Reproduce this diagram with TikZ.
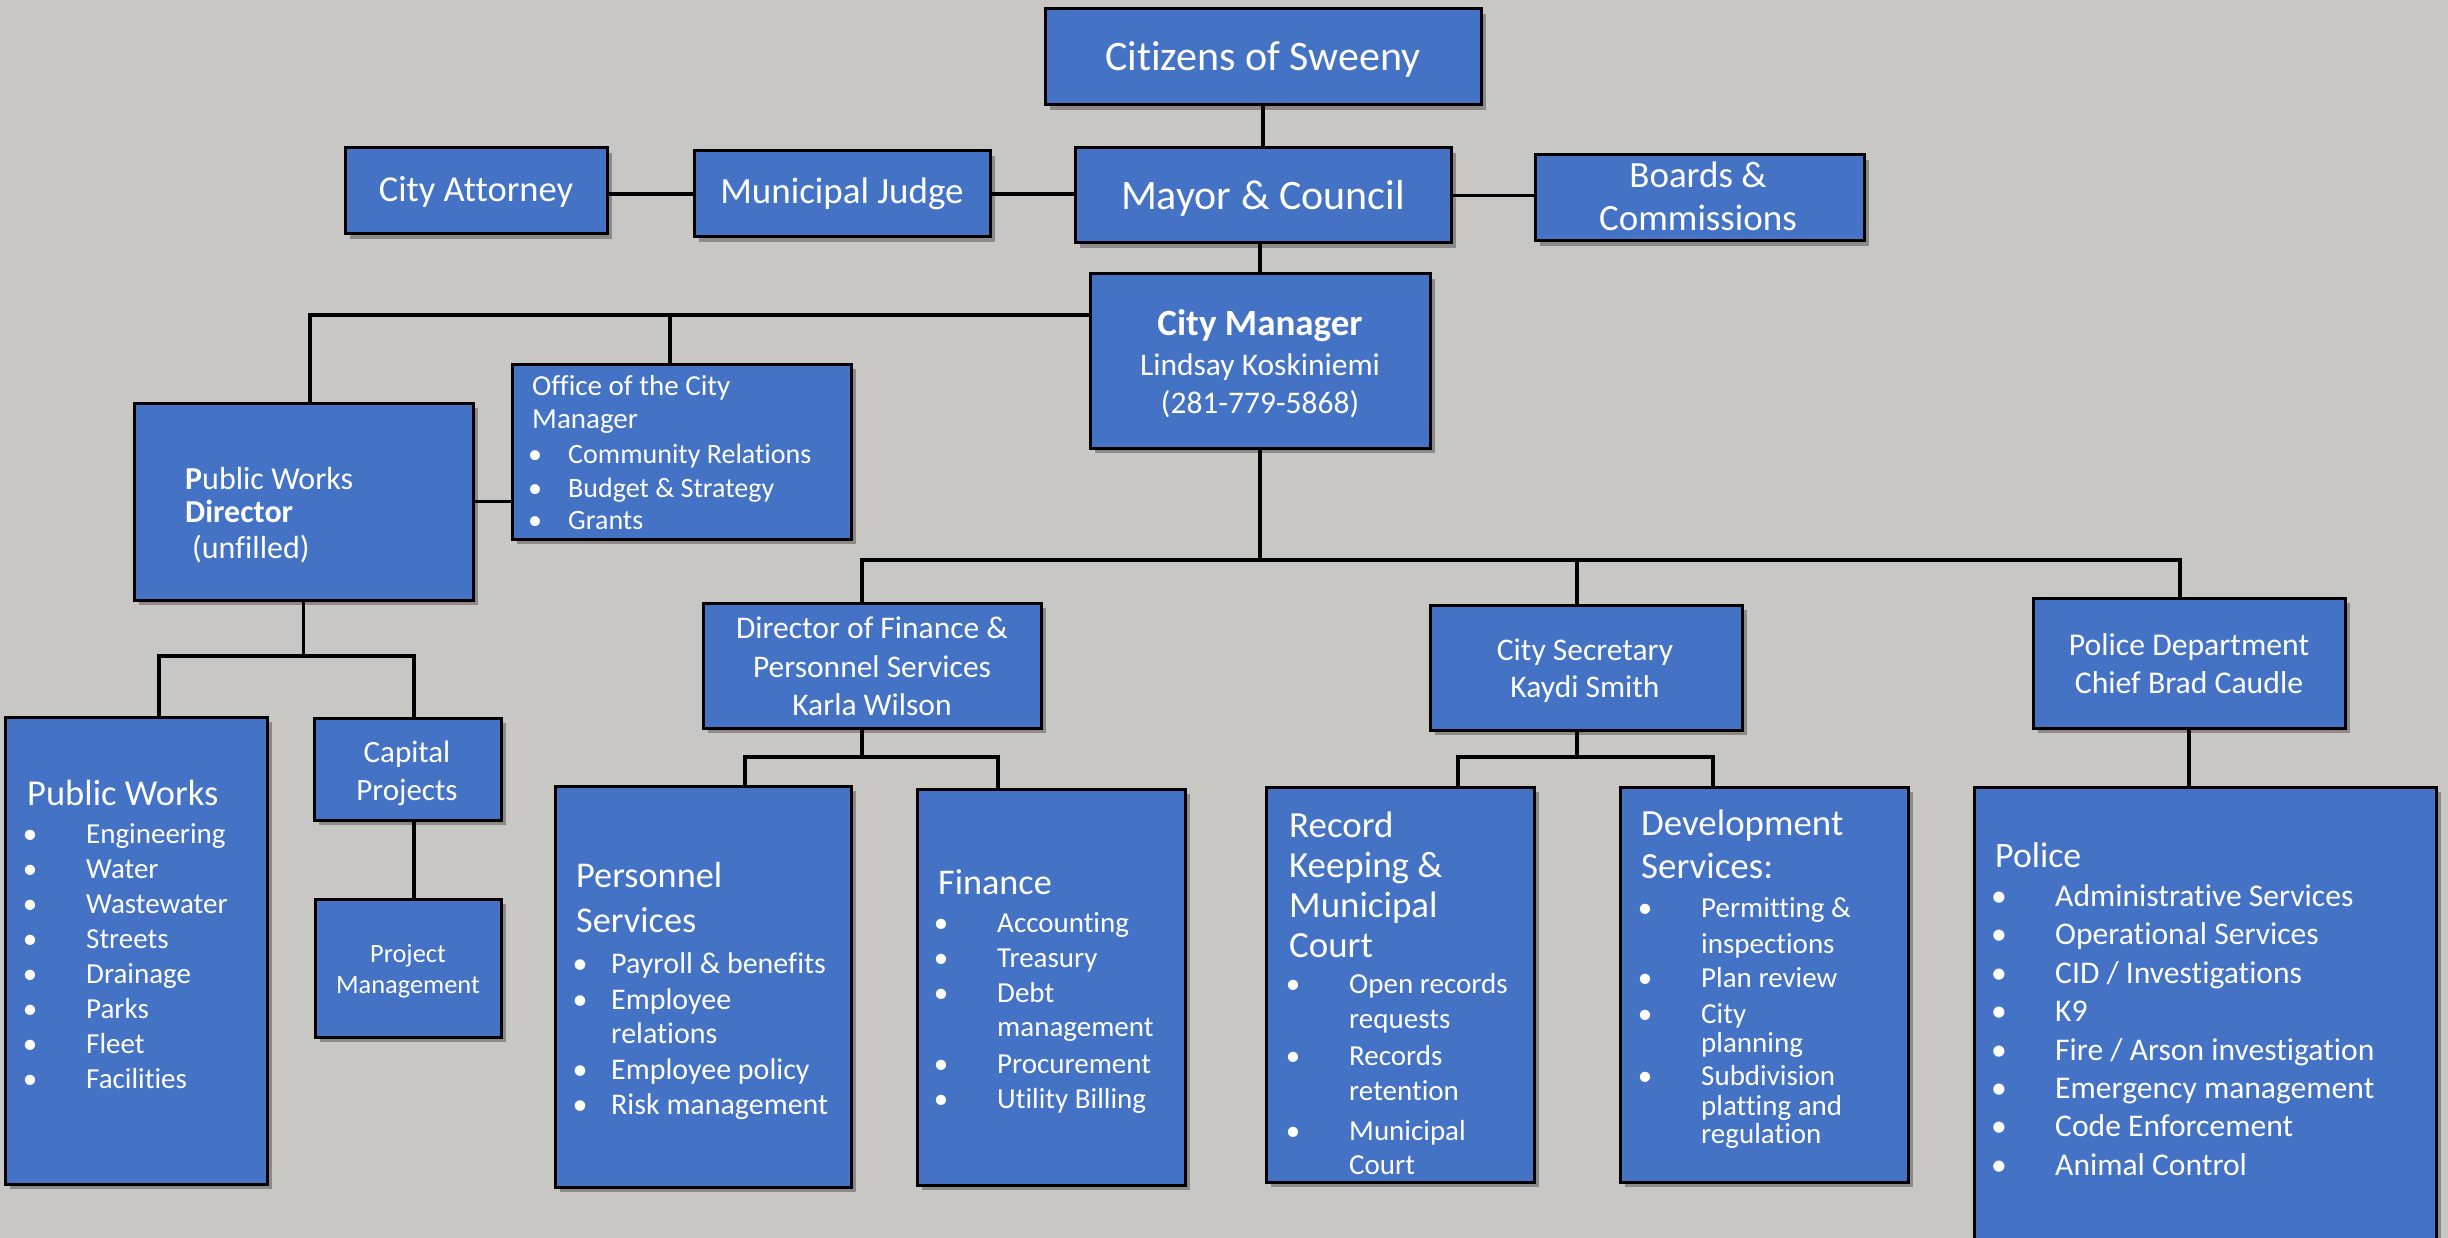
\documentclass[tikz,border=0pt]{standalone}
\usepackage{fontspec}
\setmainfont{Carlito}[Ligatures={NoCommon,NoContextual}]
\usetikzlibrary{shadows}
\definecolor{bg}{RGB}{200,199,196}
\definecolor{boxblue}{RGB}{68,114,196}
\newcommand\fs[1]{\fontsize{#1}{#1}\selectfont}
\tikzset{
  box/.style={draw=black, line width=3pt, fill=boxblue, inner sep=0pt, outer sep=0pt,
    drop shadow={shadow xshift=5pt, shadow yshift=-5pt, opacity=0.3, fill=black}},
  conn/.style={draw=black, line width=3.5pt},
  txt/.style={text=white, inner sep=0pt, anchor=base},
  ltxt/.style={text=white, inner sep=0pt, anchor=base west},
}
% name, x1, y1, x2, y2
\newcommand\bx[5]{\node[box, minimum width={(#4)-(#2)}, minimum height={(#5)-(#3)}] (#1) at ({((#2)+(#4))/2},{-((#3)+(#5))/2}) {};}
% name, bullet x, text x, y, size, text
\newcommand\itm[6]{\node[txt,font=\fs{#5}] (#1b) at (#2,-#4) {\textbullet}; \node[ltxt,font=\fs{#5}] (#1) at (#3,-#4) {#6};}
% name, x, y, size, text
\newcommand\lft[5]{\node[ltxt,font=\fs{#4}] (#1) at (#2,-#3) {#5};}
\newcommand\ctr[5]{\node[txt,font=\fs{#4}] (#1) at (#2,-#3) {#5};}
\begin{document}
\begin{tikzpicture}[x=1pt,y=1pt]
\useasboundingbox (0,0) rectangle (2448,-1238);
\fill[bg] (0,0) rectangle (2448,-1238);

% boxes
\bx{cit}{1045}{9}{1481}{105}
\bx{may}{1075}{148}{1451}{243}
\bx{att}{345}{148}{607}{234}
\bx{jud}{694}{151}{990}{237}
\bx{boa}{1535}{155}{1864}{241}
\bx{cm}{1090}{274}{1430}{448}
\bx{ofc}{512}{364}{851}{539}
\bx{pwd}{134}{403}{473}{600}
\bx{dir}{703}{603}{1041}{728}
\bx{sec}{1430}{605}{1742}{730}
\bx{pdp}{2033}{598}{2345}{728}
\bx{pw}{5}{717}{267}{1184}
\bx{cap}{314}{718}{501}{820}
\bx{pm}{315}{899}{501}{1037}
\bx{per}{555}{786}{851}{1187}
\bx{fin}{917}{789}{1185}{1185}
\bx{rec}{1266}{787}{1534}{1182}
\bx{dev}{1620}{787}{1908}{1182}
\bx{pol}{1974}{787}{2436}{1265}

% connectors
\draw[conn] (cit.south) -- (cit.south |- may.north);
\draw[conn] (jud.west) -- (jud.west -| att.east);
\draw[conn] (jud.east) -- (jud.east -| may.west);
\draw[conn] (may.east) -- (may.east -| boa.west);
\draw[conn] (cm.north) -- (cm.north |- may.south);
\coordinate (lb) at (310,-315);
\coordinate (lo) at (670,-315);
\draw[conn] (cm.west |- lb) -- (lb) -- (lb |- pwd.north);
\draw[conn] (lo) -- (lo |- ofc.north);
\draw[conn] (pwd.east) -- (pwd.east -| ofc.west);
\coordinate (mb) at (1260,-560);
\coordinate (mbl) at (862,-560);
\coordinate (mbs) at (1577,-560);
\coordinate (mbr) at (2180,-560);
\draw[conn] (cm.south) -- (mb);
\draw[conn] (mbl |- dir.north) -- (mbl) -- (mbr) -- (mbr |- pdp.north);
\draw[conn] (mbs) -- (mbs |- sec.north);
\coordinate (pl) at (159,-656);
\coordinate (pr) at (414,-656);
\draw[conn] (pwd.south) -- (pwd.south |- pl);
\draw[conn] (pl |- pw.north) -- (pl) -- (pr) -- (pr |- cap.north);
\draw[conn] (pr |- cap.south) -- (pr |- pm.north);
\coordinate (fl) at (745,-757);
\coordinate (fr) at (998,-757);
\draw[conn] (mbl |- dir.south) -- (mbl |- fl);
\draw[conn] (fl |- per.north) -- (fl) -- (fr) -- (fr |- fin.north);
\coordinate (sl) at (1458,-757);
\coordinate (sr) at (1713,-757);
\draw[conn] (mbs |- sec.south) -- (mbs |- sl);
\draw[conn] (sl |- rec.north) -- (sl) -- (sr) -- (sr |- dev.north);
\draw[conn] (pdp.south) -- (pdp.south |- pol.north);

% texts: top
\ctr{citT}{1263}{71}{42}{Citizens of Sweeny}
\ctr{mayT}{1263}{210}{42}{Mayor \& Council}
\ctr{attT}{476}{202}{36.5}{City Attorney}
\ctr{judT}{842}{204}{37}{Municipal Judge}
\ctr{boaT1}{1698}{188}{37}{Boards \&}
\ctr{boaT2}{1698}{231}{37}{Commissions}
\ctr{cmT1}{1260}{335}{37}{\bfseries City Manager}
\ctr{cmT2}{1260}{375}{31.5}{Lindsay Koskiniemi}
\ctr{cmT3}{1260}{413}{31.5}{(281-779-5868)}

% office
\lft{ofcT1}{532}{395}{29}{Office of the City}
\lft{ofcT2}{532}{428}{29}{Manager}
\itm{ofcI1}{535}{568}{463}{28}{Community Relations}
\itm{ofcI2}{535}{568}{497}{28}{Budget \& Strategy}
\itm{ofcI3}{535}{568}{529}{28}{Grants}

% public works director
\lft{pwdT1}{185}{489}{32}{\textbf{P}ublic Works}
\lft{pwdT2}{185}{522}{32}{\bfseries Director}
\lft{pwdT3}{192}{558}{32}{(unfilled)}

% second level
\ctr{dirT1}{872}{638}{31.5}{Director of Finance \&}
\ctr{dirT2}{872}{677}{31.5}{Personnel Services}
\ctr{dirT3}{872}{715}{31.5}{Karla Wilson}
\ctr{secT1}{1585}{660}{31.5}{City Secretary}
\ctr{secT2}{1585}{697}{31.5}{Kaydi Smith}
\ctr{pdpT1}{2189}{655}{31.7}{Police Department}
\ctr{pdpT2}{2189}{693}{31.7}{Chief Brad Caudle}

% public works
\lft{pwT}{27}{805}{36.5}{Public Works}
\itm{pwI1}{30}{86}{843}{29}{Engineering}
\itm{pwI2}{30}{86}{878.1}{29}{Water}
\itm{pwI3}{30}{86}{913.2}{29}{Wastewater}
\itm{pwI4}{30}{86}{948.3}{29}{Streets}
\itm{pwI5}{30}{86}{983.4}{29}{Drainage}
\itm{pwI6}{30}{86}{1018.5}{29}{Parks}
\itm{pwI7}{30}{86}{1053.6}{29}{Fleet}
\itm{pwI8}{30}{86}{1088.7}{29}{Facilities}

% capital projects
\ctr{capT1}{407}{762}{31}{Capital}
\ctr{capT2}{407}{800}{31}{Projects}
\ctr{pmT1}{408}{962}{26.4}{Project}
\ctr{pmT2}{408}{993}{26.4}{Management}

% personnel
\lft{perT1}{576}{887}{36.3}{Personnel}
\lft{perT2}{576}{932}{36.3}{Services}
\itm{perI1}{580}{611}{973}{30}{Payroll \& benefits}
\itm{perI2}{580}{611}{1009}{30}{Employee}
\lft{perI2c}{611}{1043}{30}{relations}
\itm{perI3}{580}{611}{1079}{30}{Employee policy}
\itm{perI4}{580}{611}{1114}{30}{Risk management}

% finance
\lft{finT}{938}{894}{36.2}{Finance}
\itm{finI1}{941}{997}{932}{29}{Accounting}
\itm{finI2}{941}{997}{967}{29}{Treasury}
\itm{finI3}{941}{997}{1002}{29}{Debt}
\lft{finI3c}{997}{1036}{29}{management}
\itm{finI4}{941}{997}{1073}{29}{Procurement}
\itm{finI5}{941}{997}{1108}{29}{Utility Billing}

% record keeping
\lft{recT1}{1289}{837}{36.9}{Record}
\lft{recT2}{1289}{877}{36.9}{Keeping \&}
\lft{recT3}{1289}{917}{36.9}{Municipal}
\lft{recT4}{1289}{957}{36.9}{Court}
\itm{recI1}{1293}{1349}{993}{29}{Open records}
\lft{recI1c}{1349}{1028}{29}{requests}
\itm{recI2}{1293}{1349}{1065}{29}{Records}
\lft{recI2c}{1349}{1100}{29}{retention}
\itm{recI3}{1293}{1349}{1140}{29}{Municipal}
\lft{recI3c}{1349}{1174}{29}{Court}

% development services
\lft{devT1}{1641}{835}{36.9}{Development}
\lft{devT2}{1641}{878}{36.9}{Services:}
\itm{devI1}{1645}{1701}{917}{29}{Permitting \&}
\lft{devI1c}{1701}{953}{29}{inspections}
\itm{devI2}{1645}{1701}{987}{29}{Plan review}
\itm{devI3}{1645}{1701}{1023}{29}{City}
\lft{devI3c}{1701}{1052}{29}{planning}
\itm{devI4}{1645}{1701}{1085}{29}{Subdivision}
\lft{devI4c}{1701}{1115}{29}{platting and}
\lft{devI4d}{1701}{1143}{29}{regulation}

% police
\lft{polT}{1995}{867}{35.8}{Police}
\itm{polI1}{1999}{2055}{906.5}{31.6}{Administrative Services}
\itm{polI2}{1999}{2055}{944.9}{31.6}{Operational Services}
\itm{polI3}{1999}{2055}{983.3}{31.6}{CID / Investigations}
\itm{polI4}{1999}{2055}{1021.7}{31.6}{K9}
\itm{polI5}{1999}{2055}{1060.1}{31.6}{Fire / Arson investigation}
\itm{polI6}{1999}{2055}{1098.5}{31.6}{Emergency management}
\itm{polI7}{1999}{2055}{1136.9}{31.6}{Code Enforcement}
\itm{polI8}{1999}{2055}{1175.3}{31.6}{Animal Control}
\end{tikzpicture}
\end{document}
